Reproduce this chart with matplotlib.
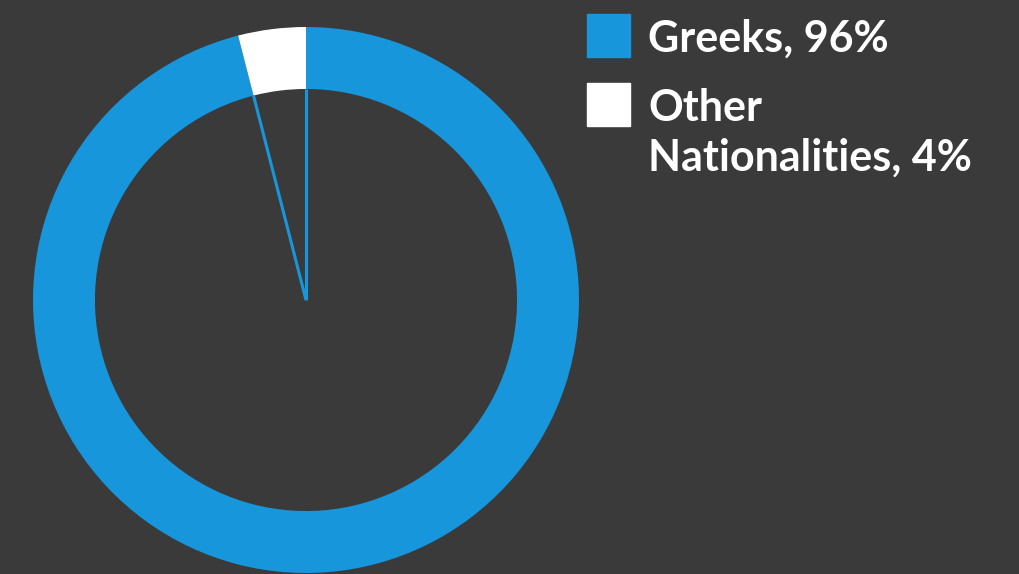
"""Donut chart: Greeks vs other nationalities."""
import numpy as np
import matplotlib.pyplot as plt
from matplotlib.patches import Rectangle

labels = ['Greeks, 96%', 'Other\nNationalities, 4%']
shares = [96, 4]
colors = ['#1796dc', '#ffffff']
BG = '#3a3a3a'

W, H = 1019, 574
fig = plt.figure(figsize=(W / 100, H / 100), dpi=100, facecolor=BG)
ax = fig.add_axes([0, 0, 1, 1])
ax.set_facecolor(BG)

# pixel geometry of the ring
cx, cy, r = 306, 274, 273
ax.axis('off')

width = 0.227
wedges, _ = ax.pie(shares, colors=colors, startangle=90, counterclock=False,
                   radius=1, wedgeprops=dict(width=width, linewidth=0),
                   normalize=True)
ax.set_xlim(-cx / r, (W - cx) / r)
ax.set_ylim(-cy / r, (H - cy) / r)
ax.set_aspect('auto')

# thin blue spokes marking the small slice
w = wedges[1]
for ang in (w.theta1, w.theta2):
    a = np.deg2rad(ang)
    ax.plot([0, (1 - width) * np.cos(a)], [0, (1 - width) * np.sin(a)],
            color=colors[0], lw=2.2, solid_capstyle='butt')

# legend
font = dict(family=['Lato', 'DejaVu Sans'], weight='bold', color='white',
            fontsize=31)
tops = [14, 83]
for lab, col, top in zip(labels, colors, tops):
    fig.patches.append(Rectangle((587 / W, 1 - (top + 43) / H), 43 / W, 43 / H,
                                 transform=fig.transFigure, color=col))
    fig.text(648 / W, 1 - (top + 5) / H, lab, va='top', ha='left',
             linespacing=1.3, **font)

fig.savefig('out.png', dpi=100, facecolor=BG)
